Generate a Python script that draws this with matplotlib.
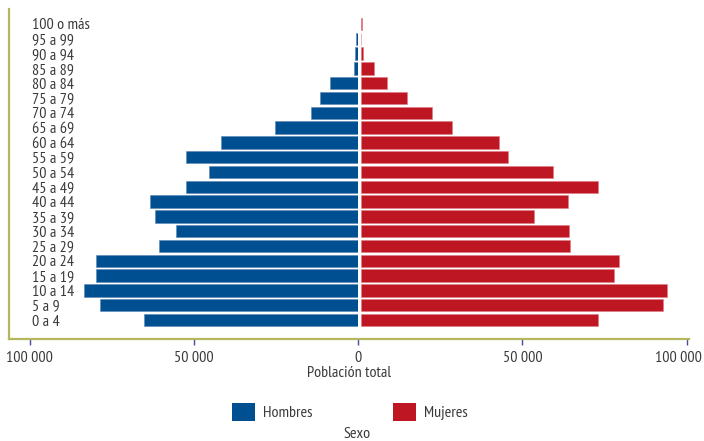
import matplotlib
matplotlib.use("Agg")
import matplotlib.pyplot as plt
from matplotlib.patches import Patch
from matplotlib.transforms import ScaledTranslation
from matplotlib import font_manager as fm
import logging
logging.getLogger("matplotlib.font_manager").setLevel(logging.ERROR)

names = {f.name for f in fm.fontManager.ttflist}
pref = ["PT Sans Narrow", "Asap Condensed", "Archivo Narrow", "Barlow Condensed", "DejaVu Sans"]
plt.rcParams["font.family"] = [n for n in pref if n in names] or ["DejaVu Sans"]

# ---------------- data ----------------
age_groups = ["0 a 4", "5 a 9", "10 a 14", "15 a 19", "20 a 24", "25 a 29", "30 a 34",
              "35 a 39", "40 a 44", "45 a 49", "50 a 54", "55 a 59", "60 a 64", "65 a 69",
              "70 a 74", "75 a 79", "80 a 84", "85 a 89", "90 a 94", "95 a 99", "100 o más"]
hombres = [65180, 78500, 83290, 79820, 79820, 60520, 55240, 61740, 63260, 52380, 45270,
           52380, 41520, 25060, 14270, 11430, 8480, 1070, 670, 450, 0]
mujeres = [72440, 92260, 93480, 77230, 78750, 63900, 63410, 52740, 63110, 72260, 58540,
           45000, 42260, 27740, 21650, 14020, 7930, 4050, 790, 0, 500]
x_ticks = [-100000, -50000, 0, 50000, 100000]
x_tick_labels = ["100 000", "50 000", "0", "50 000", "100 000"]
x_label = "Población total"
legend_labels = ["Hombres", "Mujeres"]
legend_title = "Sexo"

# ---------------- style ----------------
BLUE = "#004f91"
RED = "#be1622"
FRAME = "#b4b75c"
TICKC = "#4a4aa8"
TXT = "#3a3a3a"
FS = 11.5

W, H = 704, 441
fig = plt.figure(figsize=(W / 100, H / 100), dpi=100)

def fx(px):
    return px / W

def fy(py):
    return 1 - py / H

top_px, bot_px = 9, 339
ylo, yhi = -1.28, 21.01

frame = fig.add_axes([fx(9), fy(bot_px), fx(689 - 9), (bot_px - top_px) / H])
scale = 328.5 / 100000
zero_px = 358.2
frame.set_xlim((9 - zero_px) / scale, (689 - zero_px) / scale)
frame.set_ylim(ylo, yhi)
for s in ["top", "right"]:
    frame.spines[s].set_visible(False)
for s in ["left", "bottom"]:
    frame.spines[s].set_color(FRAME)
    frame.spines[s].set_linewidth(1.6)
frame.set_xticks(x_ticks)
frame.set_xticklabels(x_tick_labels)
frame.tick_params(axis="x", direction="out", length=4.5, width=1.0, color=TICKC,
                  labelsize=FS, labelcolor=TXT, pad=4)
frame.set_yticks(range(len(age_groups)))
frame.set_yticklabels(age_groups)
frame.tick_params(axis="y", length=0, pad=-16.8, labelsize=FS, labelcolor=TXT)
for t in frame.get_yticklabels():
    t.set_horizontalalignment("left")
last = frame.get_xticklabels()[-1]
last.set_transform(last.get_transform() + ScaledTranslation(-0.08, 0, fig.dpi_scale_trans))
frame.set_xlabel(x_label, fontsize=FS, color=TXT, labelpad=1)
frame.patch.set_alpha(0)

ax_m = fig.add_axes([fx(29.7), fy(bot_px), fx(357.5 - 29.7), (bot_px - top_px) / H])
ax_w = fig.add_axes([fx(360.7), fy(bot_px), fx(688.5 - 360.7), (bot_px - top_px) / H])
ypos = list(range(len(age_groups)))
ax_m.barh(ypos, hombres, height=0.83, color=BLUE, edgecolor="#5b86b5", linewidth=0.4)
ax_w.barh(ypos, mujeres, height=0.83, color=RED, edgecolor="#e07a82", linewidth=0.4)
ax_m.set_xlim(100000, 0)
ax_w.set_xlim(0, 100000)
for a in (ax_m, ax_w):
    a.set_ylim(ylo, yhi)
    a.axis("off")
    a.patch.set_alpha(0)

handles = [Patch(facecolor=BLUE, edgecolor="none"), Patch(facecolor=RED, edgecolor="none")]
fig.legend(handles, legend_labels, loc="center", bbox_to_anchor=(fx(350), fy(412)),
           ncol=2, frameon=False, fontsize=FS, labelcolor=TXT,
           handlelength=1.45, handleheight=1.45, handletextpad=0.5, columnspacing=5.0)
fig.text(fx(357), fy(434), legend_title, ha="center", va="center", fontsize=FS, color=TXT)

fig.savefig("out.png", dpi=100)
